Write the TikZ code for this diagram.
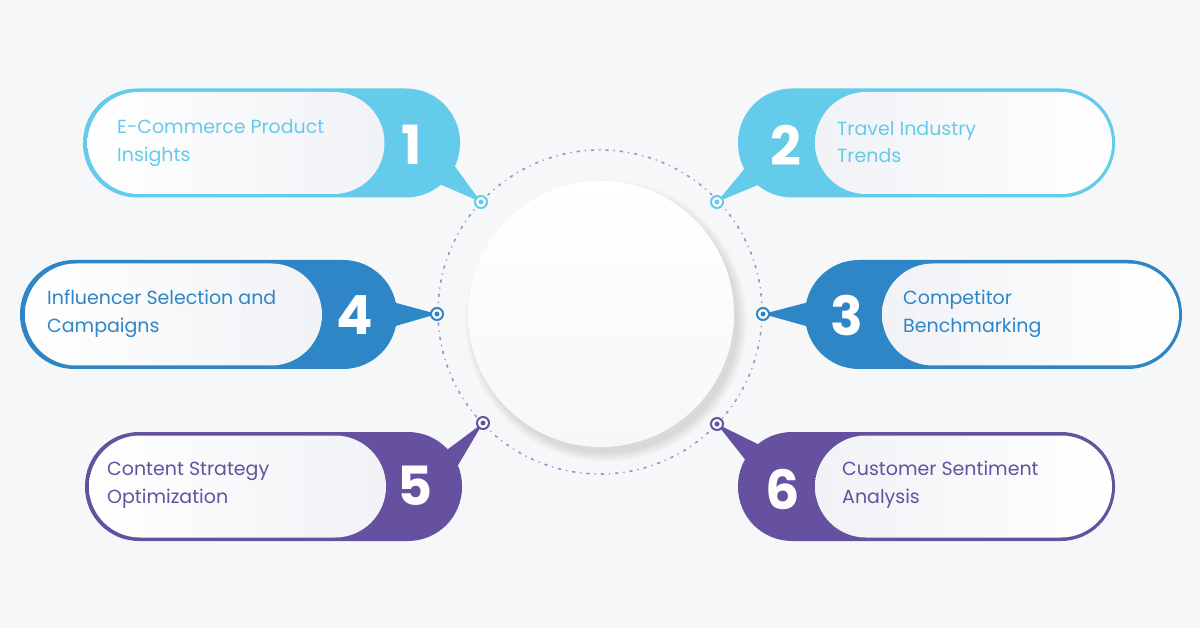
\documentclass[tikz,border=0pt]{standalone}
\usepackage{fontspec}
\setmainfont{Poppins}
\usetikzlibrary{calc}
\definecolor{bg}{HTML}{F6F7F9}
\definecolor{cA}{HTML}{65CBEA}
\definecolor{cB}{HTML}{2F86C6}
\definecolor{cC}{HTML}{6651A0}
\definecolor{dotc}{HTML}{9C98C4}
\definecolor{innerg}{HTML}{F1F2F6}
\begin{document}
\begin{tikzpicture}[x=1pt,y=-1pt,
  outerpill/.style={rounded corners=54pt, minimum width=377pt, minimum height=109pt, inner sep=0pt, fill=#1},
  innerpill/.style={rounded corners=51pt, minimum width=297pt, minimum height=102pt, inner sep=0pt, left color=white, right color=innerg},
  innerpillr/.style={rounded corners=51pt, minimum width=297pt, minimum height=102pt, inner sep=0pt, left color=innerg, right color=white},
  numtxt/.style={font=\fontsize{54}{54}\selectfont\bfseries, text=white, inner sep=0pt},
  label/.style={anchor=base west, font=\fontsize{19}{24}\selectfont, text=#1, inner sep=0pt},
]
\useasboundingbox (0,0) rectangle (1200,628);
\fill[bg] (0,0) rectangle (1200,628);

% dotted ring
\node[circle, minimum size=324pt, inner sep=0pt] (ring) at (600,312) {};
\draw[dotc, line width=1.7pt, line cap=round, dash pattern=on 0.2pt off 6pt on 2.2pt off 6pt] (ring.center) circle (162);

% central disc with shadow
\node[circle, minimum size=266pt, inner sep=0pt] (hub) at (601,314) {};
\foreach \i in {1,...,10} {
  \fill[black, opacity=0.010] ($(hub.center)+(5,7)$) circle ({131+\i});
}
\shade[top color=white, bottom color=innerg!60] (hub.center) circle (133);

% markers positions
\coordinate (m1) at (481,202);
\coordinate (m2) at (717,202);
\coordinate (m4) at (437,314);
\coordinate (m3) at (763,314);
\coordinate (m5) at (483,423);
\coordinate (m6) at (717,424);

% box 1
\node[outerpill=cA] (b1) at (271.5,143) {};
\fill[cA] ($(b1.east)+(-30,37)$) -- ($(b1.east)+(-10,17)$) -- (m1) -- cycle;
\node[innerpill] (w1) at (236,143) {};
\node[label=cA] (t1a) at (117,134) {E-Commerce Product};
\node[label=cA] (t1b) at (117,162) {Insights};
\node[numtxt] (n1) at (412,145) {1};

% box 2
\node[outerpill=cA] (b2) at (926.5,143) {};
\fill[cA] ($(b2.west)+(14,17)$) -- ($(b2.west)+(32,37)$) -- (m2) -- cycle;
\node[innerpillr] (w2) at (963.5,143) {};
\node[label=cA] (t2a) at (837,136) {Travel Industry};
\node[label=cA] (t2b) at (837,163) {Trends};
\node[numtxt] (n2) at (786,145) {2};

% box 4
\node[outerpill=cB] (b4) at (208.5,314.5) {};
\fill[cB] ($(b4.east)+(-12,-14.5)$) -- ($(b4.east)+(-12,14.5)$) -- (m4) -- cycle;
\node[innerpill] (w4) at (173.5,314.5) {};
\node[label=cB] (t4a) at (47,305) {Influencer Selection and};
\node[label=cB] (t4b) at (47,333) {Campaigns};
\node[numtxt] (n4) at (355,315) {4};

% box 3
\node[outerpill=cB] (b3) at (993.5,314.5) {};
\fill[cB] ($(b3.west)+(12,-14.5)$) -- ($(b3.west)+(12,14.5)$) -- (m3) -- cycle;
\node[innerpillr] (w3) at (1030.5,314.5) {};
\node[label=cB] (t3a) at (903,305) {Competitor};
\node[label=cB] (t3b) at (903,333) {Benchmarking};
\node[numtxt] (n3) at (847,315) {3};

% box 5
\node[outerpill=cC] (b5) at (273.5,486.5) {};
\fill[cC] ($(b5.east)+(-22,-31.5)$) -- ($(b5.east)+(-7,-16.5)$) -- (m5) -- cycle;
\node[innerpill] (w5) at (237.5,486.5) {};
\node[label=cC] (t5a) at (107,475) {Content Strategy};
\node[label=cC] (t5b) at (107,503) {Optimization};
\node[numtxt] (n5) at (415,486) {5};

% box 6
\node[outerpill=cC] (b6) at (926.5,486.5) {};
\fill[cC] ($(b6.west)+(32,-36.5)$) -- ($(b6.west)+(14,-18.5)$) -- (m6) -- cycle;
\node[innerpillr] (w6) at (963.5,486.5) {};
\node[label=cC] (t6a) at (842,475) {Customer Sentiment};
\node[label=cC] (t6b) at (842,503) {Analysis};
\node[numtxt] (n6) at (783,489) {6};

% marker rings
\foreach \m/\c in {m1/cA, m2/cA, m4/cB, m3/cB, m5/cC, m6/cC} {
  \draw[\c, line width=2pt, fill=white] (\m) circle (6);
  \fill[\c] (\m) circle (2.5);
}
\end{tikzpicture}
\end{document}
